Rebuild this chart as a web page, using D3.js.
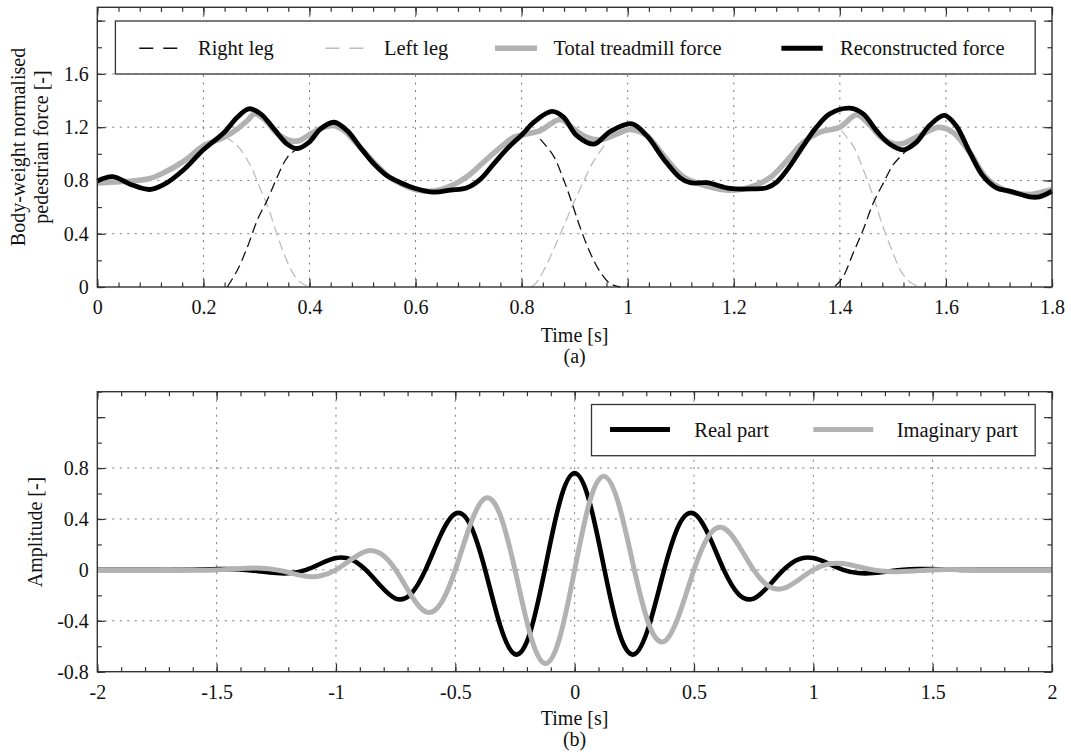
<!DOCTYPE html>
<html>
<head>
<meta charset="utf-8">
<script src="https://cdn.jsdelivr.net/npm/d3@7"></script>
<style>
  html, body { margin: 0; padding: 0; background: #fff; }
  svg { display: block; }
  text { font-family: "Liberation Serif", "Times New Roman", serif; fill: #111; }
</style>
</head>
<body>
<svg id="chart" width="1071" height="754"></svg>
<script>
// ---------------- Data: panel (a) ----------------
const totalTreadmillForce = [
  [0.00,0.78],[0.03,0.788],[0.063,0.795],[0.098,0.813],[0.126,0.859],[0.164,0.947],
  [0.20,1.06],[0.239,1.124],[0.264,1.187],[0.283,1.25],[0.296,1.30],[0.314,1.263],
  [0.34,1.149],[0.365,1.098],[0.38,1.098],[0.402,1.149],[0.428,1.20],[0.446,1.212],
  [0.465,1.174],[0.49,1.073],[0.522,0.934],[0.553,0.82],[0.60,0.732],[0.634,0.72],
  [0.666,0.758],[0.697,0.828],[0.729,0.94],[0.76,1.048],[0.785,1.124],[0.804,1.144],
  [0.835,1.174],[0.873,1.258],[0.898,1.187],[0.923,1.124],[0.948,1.106],[0.98,1.149],
  [1.005,1.182],[1.036,1.136],[1.068,0.985],[1.105,0.828],[1.149,0.758],[1.193,0.727],
  [1.237,0.758],[1.268,0.82],[1.30,0.947],[1.331,1.086],[1.362,1.162],[1.40,1.20],
  [1.432,1.293],[1.457,1.212],[1.482,1.111],[1.513,1.073],[1.544,1.124],[1.576,1.187],
  [1.588,1.20],[1.613,1.162],[1.645,1.01],[1.676,0.82],[1.708,0.732],[1.758,0.694],
  [1.776,0.707],[1.80,0.73]
];
const reconstructedForce = [
  [0.00,0.795],[0.029,0.828],[0.063,0.77],[0.098,0.732],[0.126,0.77],[0.164,0.884],
  [0.20,1.03],[0.239,1.16],[0.264,1.275],[0.286,1.338],[0.308,1.30],[0.333,1.187],
  [0.358,1.073],[0.377,1.04],[0.399,1.086],[0.421,1.187],[0.446,1.237],[0.471,1.174],
  [0.496,1.048],[0.522,0.922],[0.547,0.833],[0.572,0.783],[0.60,0.74],[0.634,0.712],
  [0.666,0.727],[0.697,0.745],[0.722,0.808],[0.747,0.922],[0.772,1.035],[0.802,1.149],
  [0.823,1.237],[0.857,1.318],[0.879,1.275],[0.904,1.136],[0.936,1.073],[0.967,1.167],
  [1.008,1.225],[1.036,1.136],[1.068,0.96],[1.099,0.82],[1.118,0.783],[1.149,0.783],
  [1.193,0.74],[1.237,0.737],[1.262,0.745],[1.281,0.788],[1.306,0.909],[1.331,1.06],
  [1.356,1.20],[1.381,1.30],[1.419,1.343],[1.444,1.30],[1.469,1.174],[1.494,1.073],
  [1.519,1.03],[1.544,1.086],[1.569,1.212],[1.597,1.288],[1.619,1.212],[1.645,1.01],
  [1.67,0.833],[1.695,0.745],[1.72,0.72],[1.758,0.677],[1.776,0.677],[1.80,0.72]
];
// Visible (double-support) branches of the single-leg forces
const rightLeg = [
  [[0.245,0],[0.264,0.126],[0.283,0.30],[0.302,0.505],[0.321,0.657],[0.34,0.833],[0.358,0.972],[0.377,1.04]],
  [[0.835,1.11],[0.86,0.985],[0.879,0.808],[0.895,0.63],[0.911,0.44],[0.93,0.25],[0.948,0.114],[0.967,0.025],[0.986,0]],
  [[1.391,0.005],[1.406,0.076],[1.425,0.253],[1.444,0.43],[1.463,0.63],[1.482,0.78],[1.501,0.92],[1.527,1.03]]
];
const leftLeg = [
  [[0.24,1.13],[0.264,1.06],[0.289,0.91],[0.308,0.73],[0.321,0.61],[0.335,0.44],[0.35,0.27],[0.368,0.11],[0.383,0.035],[0.399,0.003]],
  [[0.818,0],[0.826,0.025],[0.842,0.126],[0.86,0.278],[0.879,0.455],[0.898,0.63],[0.917,0.795],[0.936,0.947],[0.958,1.073]],
  [[1.403,1.174],[1.425,1.06],[1.444,0.884],[1.463,0.68],[1.479,0.48],[1.498,0.278],[1.516,0.114],[1.532,0.038],[1.548,0.005]]
];
const aXTicks = [0,0.2,0.4,0.6,0.8,1,1.2,1.4,1.6,1.8];
const aXTickLabels = ["0","0.2","0.4","0.6","0.8","1","1.2","1.4","1.6","1.8"];
const aYTicks = [0,0.4,0.8,1.2,1.6];
const aYTickLabels = ["0","0.4","0.8","1.2","1.6"];
const aLegend = ["Right leg","Left leg","Total treadmill force","Reconstructed force"];

// ---------------- Data: panel (b) ----------------
const waveletTime = [
  -2,-1.75,-1.6875,-1.625,-1.5625,-1.5,-1.4375,-1.375,-1.3125,-1.25,-1.1875,-1.125,-1.0625,
  -1,-0.9375,-0.875,-0.8125,-0.75,-0.6875,-0.625,-0.5625,-0.5,-0.4375,-0.375,-0.3125,-0.25,
  -0.1875,-0.125,-0.0625,0,0.0625,0.125,0.1875,0.25,0.3125,0.375,0.4375,0.5,0.5625,0.625,
  0.6875,0.75,0.8125,0.875,0.9375,1,1.0625,1.125,1.1875,1.25,1.3125,1.375,1.4375,1.5,
  1.5625,1.625,1.6875,1.75,2
];
const realPart = [
  0,0,0,0,0.003,0.006,0.006,0,-0.013,-0.025,-0.025,0,0.05,
  0.093,0.083,0,-0.127,-0.225,-0.192,0,0.269,0.442,0.354,0,-0.434,-0.663,
  -0.498,0,0.533,0.76,0.533,0,-0.498,-0.663,-0.434,0,0.354,0.442,0.269,0,
  -0.192,-0.225,-0.127,0,0.083,0.093,0.05,0,-0.025,-0.025,-0.013,0,0.006,0.006,
  0.003,0,0,0,0
];
const imaginaryPart = [
  0,0,0,-0.002,-0.003,0,0.006,0.012,0.013,0,-0.025,-0.05,-0.046,
  0,0.079,0.146,0.127,0,-0.192,-0.328,-0.269,0,0.354,0.562,0.434,0,
  -0.498,-0.735,-0.533,0,0.533,0.735,0.498,0,-0.434,-0.562,-0.354,0,0.269,0.328,
  0.192,0,-0.127,-0.146,-0.079,0,0.046,0.05,0.025,0,-0.013,-0.012,-0.006,0,
  0.003,0.002,0,0,0
];
const bXTicks = [-2,-1.5,-1,-0.5,0,0.5,1,1.5,2];
const bXTickLabels = ["-2","-1.5","-1","-0.5","0","0.5","1","1.5","2"];
const bYTicks = [-0.8,-0.4,0,0.4,0.8];
const bYTickLabels = ["-0.8","-0.4","0","0.4","0.8"];
const bLegend = ["Real part","Imaginary part"];

// ---------------- Drawing ----------------
const svg = d3.select("#chart");
const FONT = 20;
const LEG_FONT = 20.5;
const FONT_FAMILY = '"Liberation Serif", "Times New Roman", serif';
const AXIS_COLOR = "#333";
const GRID_COLOR = "#777";
const GRAY = "#b2b2b2";

function panel(cfg) {
  const g = svg.append("g");
  const x = d3.scaleLinear().domain(cfg.xDomain).range([cfg.left, cfg.right]);
  const y = d3.scaleLinear().domain(cfg.yDomain).range([cfg.bottom, cfg.top]);

  // grid
  const gridX = cfg.xTicks.filter(v => v > cfg.xDomain[0] && v < cfg.xDomain[1]);
  const gridY = cfg.yTicks.filter(v => v > cfg.yDomain[0] && v < cfg.yDomain[1]);
  g.append("g").selectAll("line").data(gridX).join("line")
    .attr("x1", d => x(d)).attr("x2", d => x(d))
    .attr("y1", cfg.bottom).attr("y2", cfg.top)
    .attr("stroke", GRID_COLOR).attr("stroke-width", 1).attr("stroke-dasharray", "2,5.5");
  g.append("g").selectAll("line").data(gridY).join("line")
    .attr("x1", cfg.left).attr("x2", cfg.right)
    .attr("y1", d => y(d)).attr("y2", d => y(d))
    .attr("stroke", GRID_COLOR).attr("stroke-width", 1).attr("stroke-dasharray", "2,5.5");

  // axes with inward ticks on all four sides
  const mk = (axisFn, scale, vals, size) => axisFn(scale).tickValues(vals).tickSize(-size).tickSizeOuter(0);
  const minorX = d3.range(cfg.xDomain[0], cfg.xDomain[1] + 1e-9, cfg.xMinor).map(v => +v.toFixed(4));
  const minorY = d3.range(cfg.yDomain[0], cfg.yDomain[1] + 1e-9, cfg.yMinor).map(v => +v.toFixed(4));
  const majX = cfg.xTicks, majY = d3.range(cfg.yDomain[0], cfg.yDomain[1] + 1e-9, cfg.yMajorStep).map(v => +v.toFixed(4));

  const axes = [];
  axes.push(g.append("g").attr("transform", `translate(0,${cfg.bottom})`)
    .call(mk(d3.axisBottom, x, minorX, 4.5).tickFormat("")));
  axes.push(g.append("g").attr("transform", `translate(0,${cfg.bottom})`)
    .call(mk(d3.axisBottom, x, majX, 8).tickPadding(12.8)
      .tickFormat(d => cfg.xTickLabels[cfg.xTicks.indexOf(d)])));
  axes.push(g.append("g").attr("transform", `translate(0,${cfg.top})`)
    .call(mk(d3.axisTop, x, minorX, 4.5).tickFormat("")));
  axes.push(g.append("g").attr("transform", `translate(0,${cfg.top})`)
    .call(mk(d3.axisTop, x, majX, 8).tickFormat("")));
  axes.push(g.append("g").attr("transform", `translate(${cfg.left},0)`)
    .call(mk(d3.axisLeft, y, minorY, 4.5).tickFormat("")));
  axes.push(g.append("g").attr("transform", `translate(${cfg.left},0)`)
    .call(mk(d3.axisLeft, y, majY, 8).tickPadding(8.5)
      .tickFormat(d => { const i = cfg.yTicks.findIndex(v => Math.abs(v - d) < 1e-6); return i >= 0 ? cfg.yTickLabels[i] : ""; })));
  axes.push(g.append("g").attr("transform", `translate(${cfg.right},0)`)
    .call(mk(d3.axisRight, y, minorY, 4.5).tickFormat("")));
  axes.push(g.append("g").attr("transform", `translate(${cfg.right},0)`)
    .call(mk(d3.axisRight, y, majY, 8).tickFormat("")));

  axes.forEach(a => {
    a.attr("font-family", FONT_FAMILY).attr("font-size", FONT);
    a.select(".domain").remove();
    a.selectAll(".tick line").attr("stroke", AXIS_COLOR).attr("stroke-width", 1.2);
    a.selectAll(".tick text").style("font-family", FONT_FAMILY)
      .style("font-size", FONT + "px").attr("fill", "#111");
  });

  return { g, x, y };
}

function frame(cfg) {
  svg.append("rect").attr("x", cfg.left).attr("y", cfg.top)
    .attr("width", cfg.right - cfg.left).attr("height", cfg.bottom - cfg.top)
    .attr("fill", "none").attr("stroke", AXIS_COLOR).attr("stroke-width", 1.4);
}

// ---------- Panel (a) ----------
const cfgA = {
  left: 97.3, right: 1052, top: 7.3, bottom: 287,
  xDomain: [0, 1.8], yDomain: [0, 2.1],
  xTicks: aXTicks, xTickLabels: aXTickLabels, xMinor: 0.04,
  yTicks: aYTicks, yTickLabels: aYTickLabels, yMinor: 0.2, yMajorStep: 0.4
};
const A = panel(cfgA);
const lineA = d3.line().x(d => A.x(d[0])).y(d => A.y(d[1])).curve(d3.curveCatmullRom.alpha(0.5));

A.g.append("path").datum(totalTreadmillForce).attr("d", lineA)
  .attr("fill", "none").attr("stroke", GRAY).attr("stroke-width", 5.5).attr("stroke-linejoin", "round");
A.g.append("g").selectAll("path").data(leftLeg).join("path").attr("d", lineA)
  .attr("fill", "none").attr("stroke", "#bdbdbd").attr("stroke-width", 1.3).attr("stroke-dasharray", "10,5");
A.g.append("g").selectAll("path").data(rightLeg).join("path").attr("d", lineA)
  .attr("fill", "none").attr("stroke", "#111").attr("stroke-width", 1.3).attr("stroke-dasharray", "10,5");
A.g.append("path").datum(reconstructedForce).attr("d", lineA)
  .attr("fill", "none").attr("stroke", "#000").attr("stroke-width", 4.8).attr("stroke-linejoin", "round");
frame(cfgA);

// legend (a)
const legA = svg.append("g");
legA.append("rect").attr("x", 115.4).attr("y", 21).attr("width", 1035.2 - 115.4).attr("height", 53)
  .attr("fill", "#fff").attr("stroke", AXIS_COLOR).attr("stroke-width", 1.3);
const legAItems = [
  { label: aLegend[0], x1: 139.3, x2: 178.5, tx: 198, stroke: "#111", w: 1.4, dash: "14,10" },
  { label: aLegend[1], x1: 325.4, x2: 365, tx: 384, stroke: "#bdbdbd", w: 1.4, dash: "14,10" },
  { label: aLegend[2], x1: 495, x2: 537, tx: 553.4, stroke: GRAY, w: 5.5, dash: null },
  { label: aLegend[3], x1: 781.4, x2: 822.7, tx: 840, stroke: "#000", w: 5, dash: null }
];
legAItems.forEach(it => {
  legA.append("line").attr("x1", it.x1).attr("x2", it.x2).attr("y1", 48.3).attr("y2", 48.3)
    .attr("stroke", it.stroke).attr("stroke-width", it.w).attr("stroke-dasharray", it.dash);
  legA.append("text").attr("x", it.tx).attr("y", 55.3).style("font-size", LEG_FONT + "px").text(it.label);
});

// axis titles (a)
svg.append("text").attr("text-anchor", "middle").style("font-size", FONT + "px")
  .attr("transform", "translate(25,147) rotate(-90)").text("Body-weight normalised");
svg.append("text").attr("text-anchor", "middle").style("font-size", FONT + "px")
  .attr("transform", "translate(48,147) rotate(-90)").text("pedestrian force [-]");
svg.append("text").attr("text-anchor", "middle").attr("x", 574.6).attr("y", 341.5)
  .style("font-size", FONT + "px").text("Time [s]");
svg.append("text").attr("text-anchor", "middle").attr("x", 574.6).attr("y", 363)
  .style("font-size", FONT + "px").text("(a)");

// ---------- Panel (b) ----------
const cfgB = {
  left: 97.3, right: 1052, top: 391.7, bottom: 671.7,
  xDomain: [-2, 2], yDomain: [-0.8, 1.4],
  xTicks: bXTicks, xTickLabels: bXTickLabels, xMinor: 0.1,
  yTicks: bYTicks, yTickLabels: bYTickLabels, yMinor: 0.2, yMajorStep: 0.4
};
const B = panel(cfgB);
const lineB = d3.line().x((d, i) => B.x(waveletTime[i])).y(d => B.y(d)).curve(d3.curveNatural);
B.g.append("path").datum(realPart).attr("d", lineB)
  .attr("fill", "none").attr("stroke", "#000").attr("stroke-width", 4.6).attr("stroke-linejoin", "round");
B.g.append("path").datum(imaginaryPart).attr("d", lineB)
  .attr("fill", "none").attr("stroke", GRAY).attr("stroke-width", 5).attr("stroke-linejoin", "round");
frame(cfgB);

// legend (b)
const legB = svg.append("g");
legB.append("rect").attr("x", 591.5).attr("y", 404.5).attr("width", 1035.2 - 591.5).attr("height", 51.2)
  .attr("fill", "#fff").attr("stroke", AXIS_COLOR).attr("stroke-width", 1.3);
[
  { label: bLegend[0], x1: 610, x2: 670, tx: 694.3, stroke: "#000", w: 5 },
  { label: bLegend[1], x1: 813.3, x2: 873.3, tx: 896.7, stroke: GRAY, w: 5 }
].forEach(it => {
  legB.append("line").attr("x1", it.x1).attr("x2", it.x2).attr("y1", 429.5).attr("y2", 429.5)
    .attr("stroke", it.stroke).attr("stroke-width", it.w);
  legB.append("text").attr("x", it.tx).attr("y", 437.3).style("font-size", LEG_FONT + "px").text(it.label);
});

svg.append("text").attr("text-anchor", "middle").style("font-size", FONT + "px")
  .attr("transform", "translate(42,532) rotate(-90)").text("Amplitude [-]");
svg.append("text").attr("text-anchor", "middle").attr("x", 574.6).attr("y", 724.7)
  .style("font-size", FONT + "px").text("Time [s]");
svg.append("text").attr("text-anchor", "middle").attr("x", 574.6).attr("y", 746.4)
  .style("font-size", FONT + "px").text("(b)");
</script>
</body>
</html>
